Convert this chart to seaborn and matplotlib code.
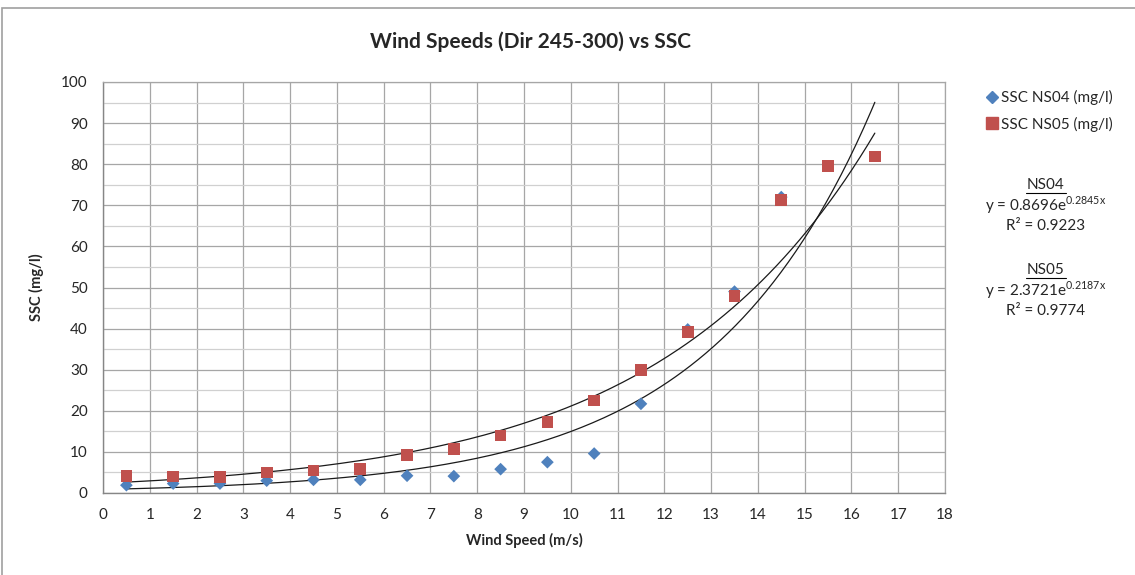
import numpy as np
import pandas as pd
import matplotlib
matplotlib.use('Agg')
import matplotlib.pyplot as plt
import seaborn as sns
from matplotlib.lines import Line2D
from matplotlib.patches import Rectangle

# Data
wind_ns04 = [0.5, 1.5, 2.5, 3.5, 4.5, 5.5, 6.5, 7.5, 8.5, 9.5, 10.5, 11.5, 12.5, 13.5, 14.5]
ssc_ns04 = [1.9, 2.3, 2.3, 3.0, 3.2, 3.2, 4.2, 4.1, 5.8, 7.5, 9.6, 21.7, 39.8, 49.0, 72.0]
wind_ns05 = [0.5, 1.5, 2.5, 3.5, 4.5, 5.5, 6.5, 7.5, 8.5, 9.5, 10.5, 11.5, 12.5, 13.5, 14.5, 15.5, 16.5]
ssc_ns05 = [4.1, 4.0, 3.9, 5.0, 5.5, 5.8, 9.2, 10.7, 14.0, 17.2, 22.5, 29.9, 39.1, 47.9, 71.3, 79.6, 81.9]

# Exponential trendline coefficients shown on the chart
fit_ns04 = (0.8696, 0.2845, 0.9223)
fit_ns05 = (2.3721, 0.2187, 0.9774)
trend_range = (0.5, 16.5)

blue = '#4F81BD'
red = '#C0504D'

sns.set_style('white')
plt.rcParams['font.family'] = ['Lato', 'DejaVu Sans']
plt.rcParams['mathtext.fontset'] = 'custom'
plt.rcParams['mathtext.rm'] = 'Lato'

fig = plt.figure(figsize=(11.35, 5.75), dpi=100)
ax = fig.add_axes([103 / 1135, 1 - 493 / 575, (945 - 103) / 1135, (493 - 82) / 575])

# outer chart border
fig.add_artist(Rectangle((2 / 1135, -0.01), 1.1, 1 - 8 / 575 + 0.01, transform=fig.transFigure,
                         fill=False, edgecolor='#A0A0A0', linewidth=1.2))

# trendlines
xt = np.linspace(trend_range[0], trend_range[1], 200)
trend = pd.DataFrame({
    'x': np.concatenate([xt, xt]),
    'y': np.concatenate([fit_ns04[0] * np.exp(fit_ns04[1] * xt), fit_ns05[0] * np.exp(fit_ns05[1] * xt)]),
    'series': ['NS04'] * len(xt) + ['NS05'] * len(xt),
})
sns.lineplot(data=trend, x='x', y='y', units='series', estimator=None, color='#1a1a1a',
             linewidth=0.9, ax=ax, legend=False, zorder=2)

sns.scatterplot(x=wind_ns04, y=ssc_ns04, marker='D', color=blue, s=42, edgecolor='none', ax=ax, zorder=3)
sns.scatterplot(x=wind_ns05, y=ssc_ns05, marker='s', color=red, s=70, edgecolor='none', ax=ax, zorder=4)

ax.set_xlim(0, 18)
ax.set_ylim(0, 100)
ax.set_xticks(range(0, 19))
ax.set_yticks(range(0, 101, 10))
ax.set_yticks(range(5, 100, 10), minor=True)
ax.grid(True, which='major', color='#A6A6A6', linewidth=0.9)
ax.grid(True, which='minor', axis='y', color='#D0D0D0', linewidth=0.9)
ax.set_axisbelow(True)
for side in ['top', 'right']:
    ax.spines[side].set_color('#A6A6A6')
    ax.spines[side].set_linewidth(0.9)
for side in ['left', 'bottom']:
    ax.spines[side].set_color('#868686')
    ax.spines[side].set_linewidth(1.0)
ax.tick_params(axis='both', which='major', direction='out', length=5, width=0.9, color='#868686',
               labelsize=11, pad=6)
ax.tick_params(axis='y', which='minor', length=0)

ax.set_xlabel('Wind Speed (m/s)', fontsize=10.5, fontweight='bold', labelpad=8)
ax.set_ylabel('SSC (mg/l)', fontsize=10.5, fontweight='bold', labelpad=12)
fig.text(530 / 1135, 1 - 42 / 575, 'Wind Speeds (Dir 245-300) vs SSC', ha='center', va='center',
         fontsize=15, fontweight='bold')

# legend
handles = [
    Line2D([], [], marker='D', color=blue, linestyle='none', markersize=6, label='SSC NS04 (mg/l)'),
    Line2D([], [], marker='s', color=red, linestyle='none', markersize=8, label='SSC NS05 (mg/l)'),
]
ax.legend(handles=handles, loc='upper left', bbox_to_anchor=(978 / 1135, 1 - 84 / 575),
          bbox_transform=fig.transFigure, frameon=False, fontsize=11, handletextpad=0.1,
          handlelength=1.0, labelspacing=0.75, borderaxespad=0)

# trendline equations
cx = 1046 / 1135
for name, (a, b, r2), ytop in [('NS04', fit_ns04, 185), ('NS05', fit_ns05, 270)]:
    fig.text(cx, 1 - ytop / 575, name, ha='center', va='center', fontsize=11)
    fig.add_artist(Line2D([cx - 20 / 1135, cx + 20 / 1135], [1 - (ytop + 8) / 575] * 2,
                          transform=fig.transFigure, color='black', linewidth=0.8))
    fig.text(cx, 1 - (ytop + 20) / 575, f'y = {a:.4f}e$^{{\\mathregular{{{b:.4f}x}}}}$', ha='center',
             va='center', fontsize=11)
    fig.text(cx, 1 - (ytop + 41) / 575, f'R² = {r2:.4f}', ha='center', va='center', fontsize=11)

fig.savefig('out.png', dpi=100)
